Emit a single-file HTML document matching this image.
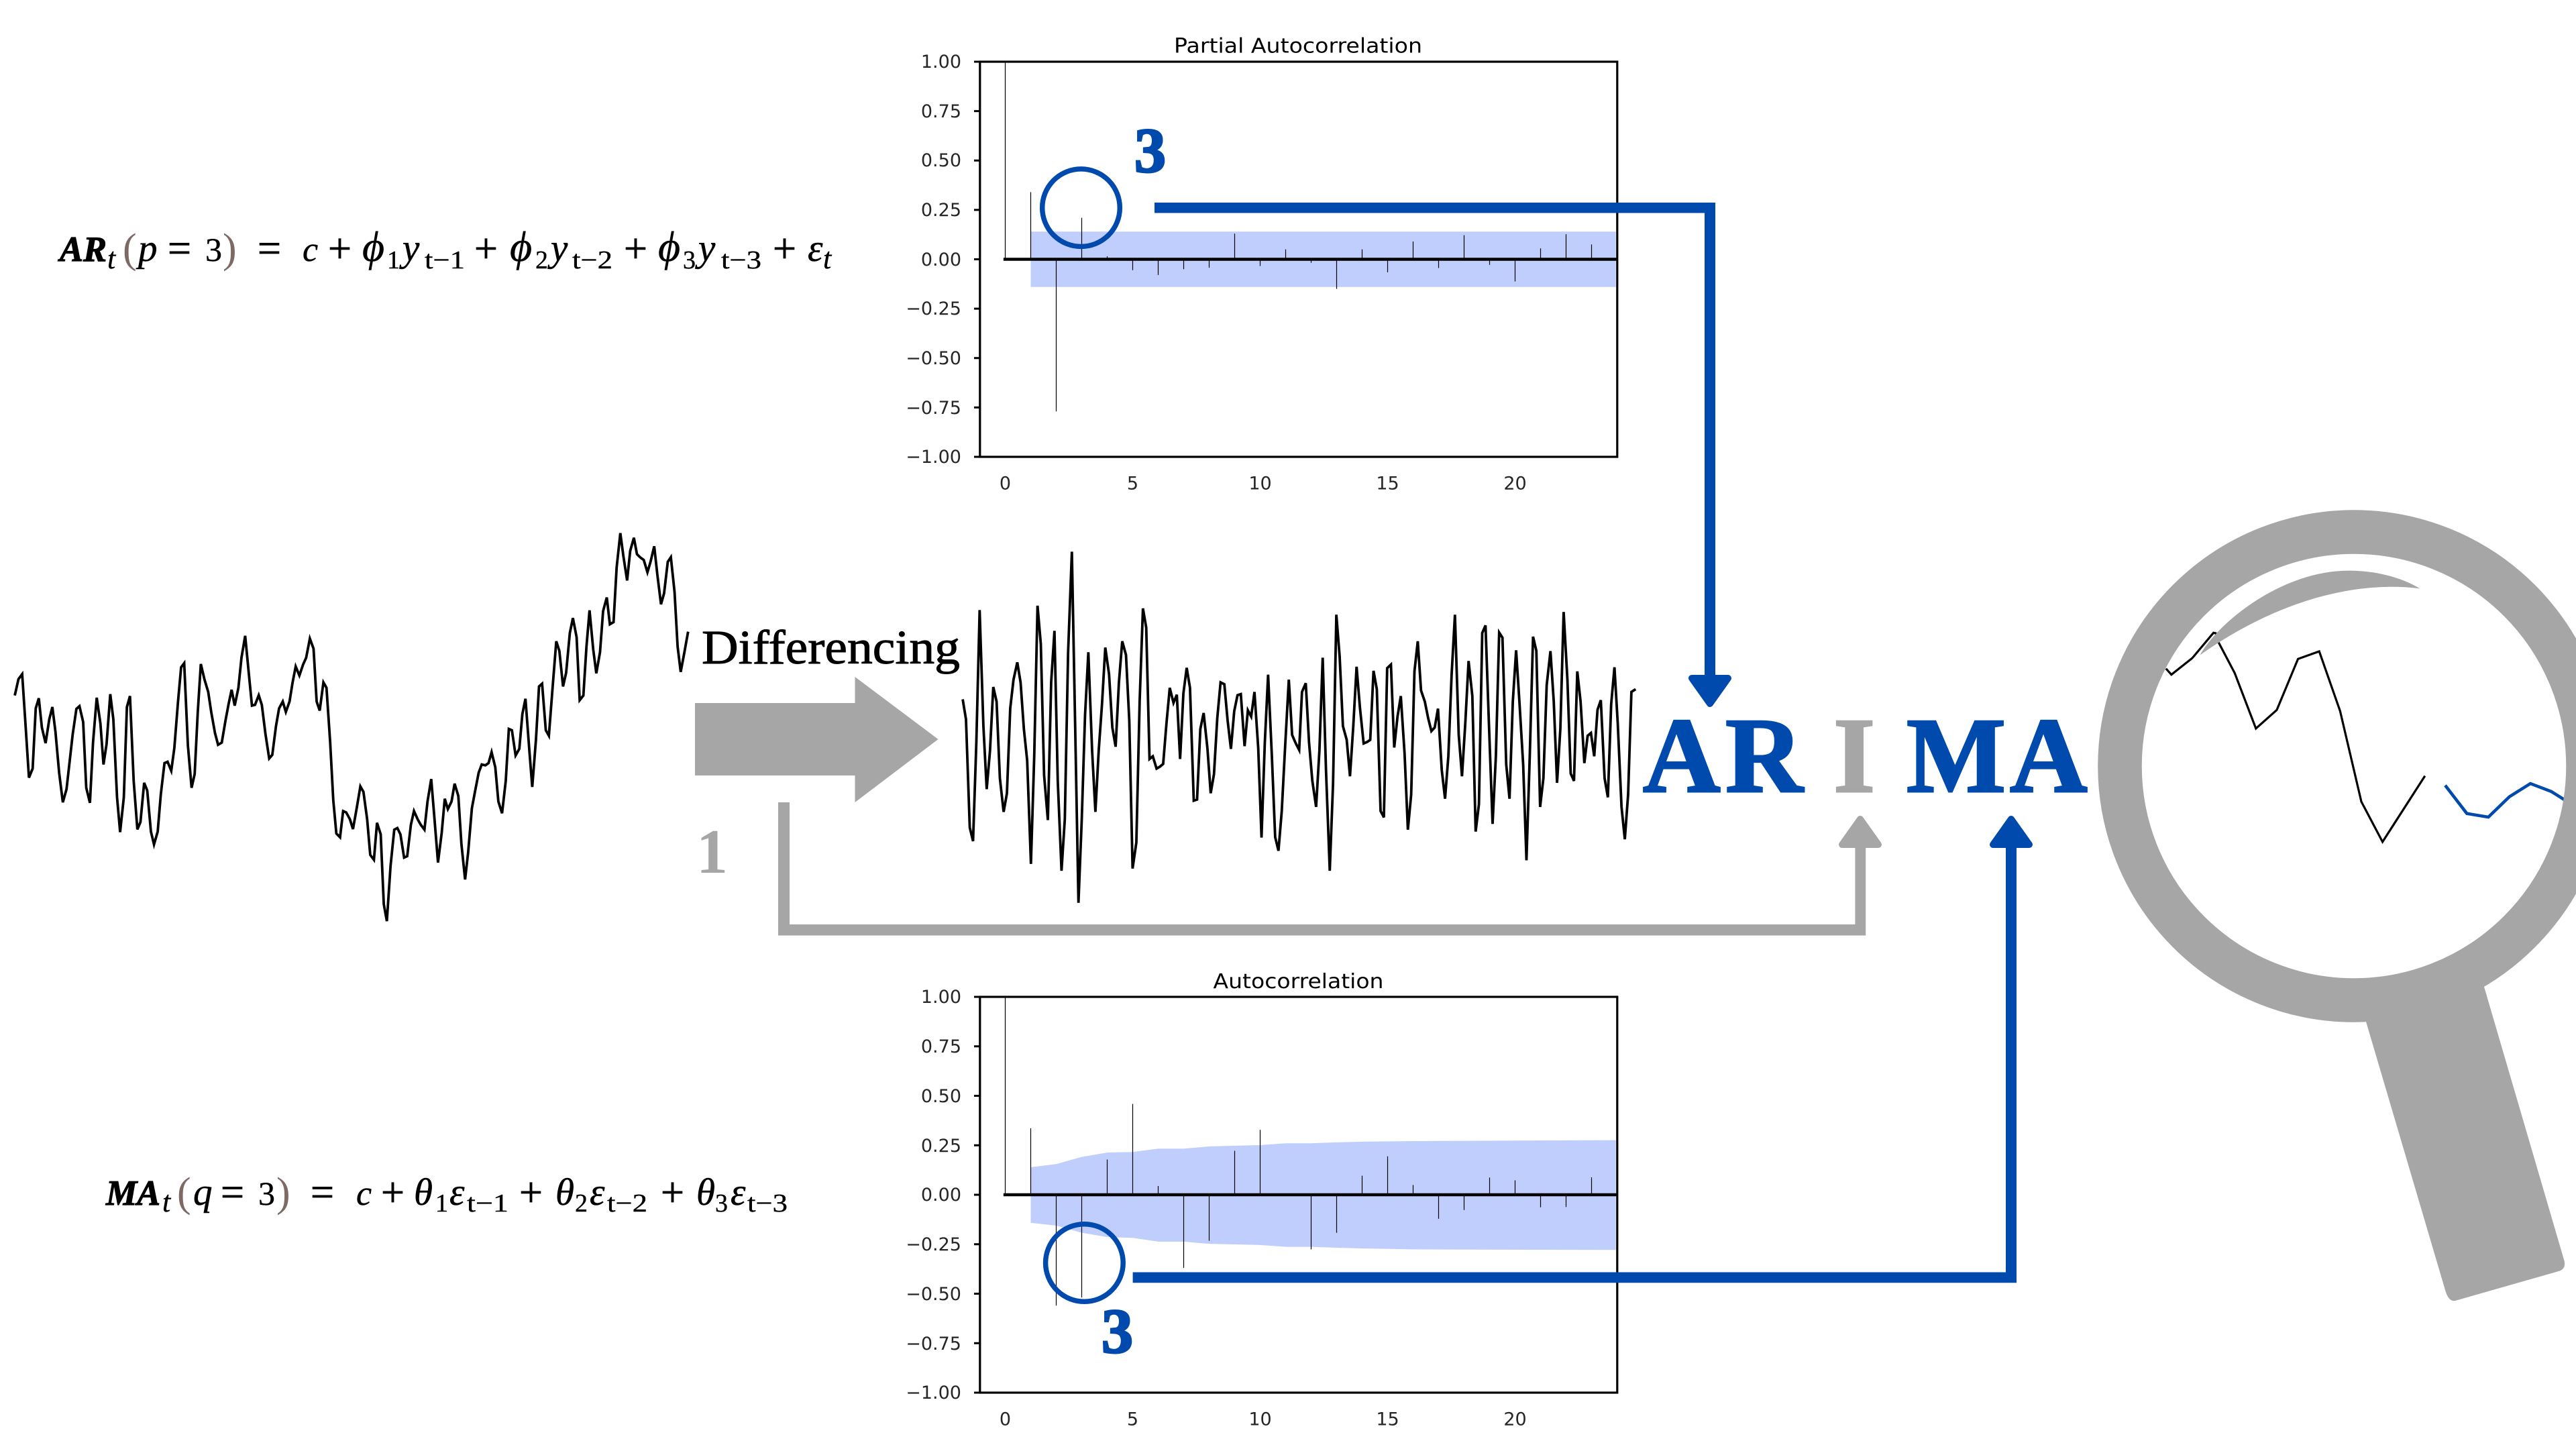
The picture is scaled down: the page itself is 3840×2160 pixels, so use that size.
<!DOCTYPE html>
<html lang="en"><head><meta charset="utf-8"><title>ARIMA</title>
<style>
html,body{margin:0;padding:0;background:#fff;width:3840px;height:2160px;overflow:hidden}
svg{display:block}
.tk{font:27px "DejaVu Sans",sans-serif;fill:#262626}
.ttl{font:30px "DejaVu Sans",sans-serif;fill:#000}
.f{font:italic 57px "Liberation Serif",serif;fill:#000;stroke:#000;stroke-width:.5}
.g{font:italic 64px "Liberation Serif",serif;fill:#000;stroke:#000;stroke-width:.5}
.c{font:italic 52px "Liberation Serif",serif;fill:#000;stroke:#000;stroke-width:.5}
.n{font:50px "Liberation Serif",serif;fill:#000;stroke:#000;stroke-width:.4}
.o{font:62px "Liberation Serif",serif;fill:#000;stroke:#000;stroke-width:.8}
.b{font:italic bold 53px "Liberation Serif",serif;fill:#000;stroke:#000;stroke-width:1.2}
.s{font:38px "Liberation Serif",serif;fill:#000;stroke:#000;stroke-width:.4}
.si{font:italic 44px "Liberation Serif",serif;fill:#000;stroke:#000;stroke-width:.4}
.p{font:62px "Liberation Serif",serif;fill:#7d6a66}
.big{font:bold 160px "Liberation Serif",serif;fill:#004aad;stroke:#004aad;stroke-width:3}
.three{font:bold 94px "Liberation Serif",serif;fill:#004aad;stroke:#004aad;stroke-width:3}
.ns{vector-effect:non-scaling-stroke;fill:none}
</style></head><body>
<svg xmlns="http://www.w3.org/2000/svg" width="3840" height="2160" viewBox="0 0 3840 2160">
<rect width="3840" height="2160" fill="#fff"/>

<!-- AR formula -->
<text class="b" x="89" y="389" textLength="70" lengthAdjust="spacingAndGlyphs">AR</text>
<text class="si" x="160" y="400">t</text>
<text class="p" x="183" y="391">(</text>
<text class="f" x="206" y="389">p</text>
<text class="o" x="250" y="391">=</text>
<text class="n" x="306" y="389">3</text>
<text class="p" x="332" y="391">)</text>
<text class="o" x="384" y="391">=</text>
<text class="c" x="451" y="389">c</text>
<text class="o" x="489" y="391">+</text>
<text class="g" x="540" y="389">ϕ</text>
<text class="s" x="577" y="400">1</text>
<text class="f" x="600" y="389">y</text>
<text class="s" x="633" y="400" textLength="60" lengthAdjust="spacingAndGlyphs">t−1</text>
<text class="o" x="707" y="391">+</text>
<text class="g" x="760" y="389">ϕ</text>
<text class="s" x="798" y="400">2</text>
<text class="f" x="821" y="389">y</text>
<text class="s" x="853" y="400" textLength="60" lengthAdjust="spacingAndGlyphs">t−2</text>
<text class="o" x="930" y="391">+</text>
<text class="g" x="981" y="389">ϕ</text>
<text class="s" x="1018" y="400">3</text>
<text class="f" x="1041" y="389">y</text>
<text class="s" x="1075" y="400" textLength="60" lengthAdjust="spacingAndGlyphs">t−3</text>
<text class="o" x="1152" y="391">+</text>
<text class="f" x="1204" y="389">ε</text>
<text class="si" x="1227" y="400">t</text>

<!-- MA formula -->
<text class="b" x="158" y="1796" textLength="81" lengthAdjust="spacingAndGlyphs">MA</text>
<text class="si" x="242" y="1806">t</text>
<text class="p" x="264" y="1798">(</text>
<text class="f" x="288" y="1796">q</text>
<text class="o" x="329" y="1798">=</text>
<text class="n" x="385" y="1796">3</text>
<text class="p" x="412" y="1798">)</text>
<text class="o" x="463" y="1798">=</text>
<text class="c" x="531" y="1796">c</text>
<text class="o" x="568" y="1798">+</text>
<text class="f" x="617" y="1796">θ</text>
<text class="s" x="649" y="1806">1</text>
<text class="f" x="670" y="1796">ε</text>
<text class="s" x="696" y="1806" textLength="62" lengthAdjust="spacingAndGlyphs">t−1</text>
<text class="o" x="774" y="1798">+</text>
<text class="f" x="828" y="1796">θ</text>
<text class="s" x="857" y="1806">2</text>
<text class="f" x="879" y="1796">ε</text>
<text class="s" x="905" y="1806" textLength="60" lengthAdjust="spacingAndGlyphs">t−2</text>
<text class="o" x="985" y="1798">+</text>
<text class="f" x="1038" y="1796">θ</text>
<text class="s" x="1066" y="1806">3</text>
<text class="f" x="1089" y="1796">ε</text>
<text class="s" x="1114" y="1806" textLength="60" lengthAdjust="spacingAndGlyphs">t−3</text>

<!-- original series -->
<g transform="translate(0,760) scale(.9183,.4082)">
<polyline class="ns" stroke="#000" stroke-width="3.8" stroke-linejoin="miter" points="24,678 30,618 36,600 41,770 47,978 53,945 58,725 63,688 68,795 74,852 80,765 85,720 90,810 96,960 102,1068 108,1020 113,920 118,820 124,727 129,717 135,775 140,1015 146,1070 151,850 157,686 163,780 168,930 173,855 179,673 184,765 190,1050 195,1177 201,1050 206,720 211,680 217,990 223,1167 228,1140 234,997 239,1025 245,1175 250,1222 256,1175 261,1040 267,925 272,920 278,953 283,870 289,700 294,575 299,560 305,860 311,1015 316,965 321,740 326,563 332,620 338,665 343,740 349,815 354,858 360,850 366,770 371,710 376,657 381,715 387,650 392,540 398,460 404,600 409,715 414,712 420,677 425,712 431,820 437,908 442,895 448,790 453,725 459,700 464,738 470,700 475,630 480,572 486,605 492,565 497,540 503,470 509,507 514,700 519,733 525,630 530,650 536,850 541,1060 546,1182 552,1196 557,1100 562,1105 568,1130 573,1166 579,1090 585,1010 590,1030 596,1130 601,1260 607,1278 612,1143 618,1185 623,1440 628,1502 634,1300 640,1168 645,1162 650,1185 656,1270 661,1265 667,1150 672,1100 678,1130 683,1150 689,1168 694,1065 700,983 705,1120 711,1288 717,1180 722,1055 727,1093 733,1065 738,1000 744,1045 749,1220 755,1350 760,1250 766,1090 771,1030 777,960 782,930 788,933 793,925 798,885 804,940 809,1065 815,1108 821,990 826,800 831,805 837,897 843,873 848,745 853,690 859,870 864,1012 870,840 875,645 880,635 886,805 891,825 897,650 903,480 908,515 914,645 919,595 925,450 930,395 936,465 941,695 947,678 952,500 957,367 963,510 968,597 974,520 979,370 985,320 990,418 996,410 1001,210 1007,85 1012,170 1018,258 1023,150 1029,102 1034,162 1040,175 1045,183 1051,228 1056,190 1062,133 1067,235 1073,345 1078,305 1084,190 1089,173 1095,300 1100,500 1105,592 1111,520 1117,445"/>
</g>

<!-- differenced series -->
<g transform="translate(1400,760) scale(.7015,.4082)">
<polyline class="ns" stroke="#000" stroke-width="3.8" points="50,692 57,765 65,1160 72,1210 79,850 86,366 94,790 101,1020 108,880 115,647 122,700 129,980 137,1103 144,1035 151,725 158,620 166,557 173,630 180,800 187,915 195,1293 202,900 209,350 216,490 223,970 231,1133 238,630 245,442 252,990 260,1318 267,1130 274,520 282,153 289,790 296,1435 303,1130 310,750 317,520 325,880 332,1103 339,880 346,710 353,503 361,600 368,795 375,865 382,630 389,480 397,530 404,770 411,1310 419,1215 426,700 433,360 440,430 447,910 454,900 462,945 469,938 476,928 483,780 490,650 498,705 505,675 512,910 519,670 526,577 533,650 541,1062 548,1058 555,800 562,742 570,870 577,1035 584,965 591,760 598,630 606,637 613,770 620,873 627,735 634,677 641,673 649,863 656,732 663,755 670,665 678,870 685,1197 692,850 699,602 707,900 714,1195 721,1245 728,1100 735,870 743,620 750,822 757,850 765,877 771,665 779,633 786,850 793,990 801,1085 808,880 815,540 822,950 830,1318 837,1000 844,383 851,535 858,790 866,840 873,973 880,790 887,573 894,720 902,853 909,848 916,840 923,588 930,655 938,1100 945,1123 952,578 960,565 967,868 974,755 981,680 989,890 996,1168 1003,1040 1010,590 1017,480 1024,660 1032,700 1039,760 1046,808 1053,795 1060,726 1068,950 1075,1055 1082,900 1089,600 1096,383 1104,820 1111,973 1118,780 1125,552 1133,680 1140,1175 1147,1075 1154,450 1161,422 1168,770 1176,1147 1183,900 1190,448 1197,467 1205,930 1212,1055 1219,700 1226,513 1233,700 1241,930 1248,1280 1255,900 1262,463 1269,515 1277,1085 1284,980 1291,640 1299,516 1306,700 1313,997 1320,800 1327,373 1335,620 1342,963 1349,990 1356,590 1363,700 1371,925 1378,825 1385,815 1392,900 1399,730 1406,695 1414,980 1421,1050 1428,710 1435,575 1442,780 1450,1085 1457,1203 1464,1040 1471,665 1480,655"/>
</g>

<!-- Differencing -->
<text x="1046" y="989" textLength="385" lengthAdjust="spacingAndGlyphs" stroke="#000" stroke-width="1" style="font:72px 'Liberation Serif',serif" fill="#000">Differencing</text>
<polygon fill="#a6a6a6" points="1036,1048 1274.5,1048 1274.5,1009 1398.5,1102 1274.5,1196 1274.5,1156 1036,1156"/>
<text x="1038" y="1301" textLength="47" lengthAdjust="spacingAndGlyphs" style="font:bold 94px 'Liberation Serif',serif" fill="#a6a6a6">1</text>

<!-- PACF chart -->
<g>
<text class="ttl" x="1750" y="78.5" textLength="370" lengthAdjust="spacingAndGlyphs">Partial Autocorrelation</text>
<g transform="translate(1498.5,386.5) scale(38,-294.5)">
<polygon fill="#bfcefd" points="1,.14 23.95,.14 23.95,-.14 1,-.14"/>
<path class="ns" stroke="#000" stroke-width="1.2" d="M0 0V1M1 0V.34M2 0V-.77M3 0V.21M4 0V.015M5 0V-.055M6 0V-.08M7 0V-.05M8 0V-.043M9 0V.13M10 0V-.034M11 0V.05M12 0V-.018M13 0V-.15M14 0V.05M15 0V-.066M16 0V.09M17 0V-.044M18 0V.122M19 0V-.028M20 0V-.112M21 0V.055M22 0V.127M23 0V.075"/>
<path class="ns" stroke="#000" stroke-width="4.6" d="M-.07 0H24"/>
</g>
<rect x="1460.8" y="92" width="950" height="589" fill="none" stroke="#000" stroke-width="3.2"/>
<path stroke="#000" stroke-width="3" fill="none" d="M1452 92h9M1452 165.6h9M1452 239.3h9M1452 312.9h9M1452 386.5h9M1452 460.1h9M1452 533.8h9M1452 607.4h9M1452 681h9"/>
<g class="tk" text-anchor="end">
<text x="1433" y="101">1.00</text><text x="1433" y="175">0.75</text><text x="1433" y="248">0.50</text><text x="1433" y="322">0.25</text><text x="1433" y="396">0.00</text><text x="1433" y="469">−0.25</text><text x="1433" y="543">−0.50</text><text x="1433" y="617">−0.75</text><text x="1433" y="690">−1.00</text>
</g>
<g class="tk" text-anchor="middle">
<text x="1498.5" y="729.6">0</text><text x="1688.5" y="729.6">5</text><text x="1878.5" y="729.6">10</text><text x="2068.5" y="729.6">15</text><text x="2258.5" y="729.6">20</text>
</g>
</g>

<!-- ACF chart -->
<g>
<text class="ttl" x="1808.5" y="1473" textLength="254" lengthAdjust="spacingAndGlyphs">Autocorrelation</text>
<g transform="translate(1498.5,1781) scale(38,-295)">
<polygon fill="#bfcefd" points="1,.139 2,.155 3,.191 4,.213 5,.216 6,.233 7,.233 8,.244 9,.248 10,.251 11,.26 12,.26 13,.265 14,.268 16,.271 23.95,.276 23.95,-.279 16,-.276 14,-.271 13,-.268 12,-.263 11,-.263 10,-.254 9,-.251 8,-.248 7,-.237 6,-.237 5,-.218 4,-.214 3,-.192 2,-.156 1,-.142"/>
<path class="ns" stroke="#000" stroke-width="1.2" d="M0 0V1M1 0V.336M2 0V-.56M3 0V-.519M4 0V.178M5 0V.459M6 0V.044M7 0V-.37M8 0V-.232M9 0V.222M10 0V.328M12 0V-.276M13 0V-.192M14 0V.096M15 0V.194M16 0V.049M17 0V-.121M18 0V-.077M19 0V.087M20 0V.073M21 0V-.063M22 0V-.062M23 0V.088"/>
<path class="ns" stroke="#000" stroke-width="4.6" d="M-.07 0H24"/>
</g>
<rect x="1460.8" y="1486" width="950" height="590" fill="none" stroke="#000" stroke-width="3.2"/>
<path stroke="#000" stroke-width="3" fill="none" d="M1452 1486h9M1452 1559.8h9M1452 1633.5h9M1452 1707.3h9M1452 1781h9M1452 1854.8h9M1452 1928.5h9M1452 2002.3h9M1452 2076h9"/>
<g class="tk" text-anchor="end">
<text x="1433" y="1495">1.00</text><text x="1433" y="1569">0.75</text><text x="1433" y="1643">0.50</text><text x="1433" y="1717">0.25</text><text x="1433" y="1790">0.00</text><text x="1433" y="1864">−0.25</text><text x="1433" y="1938">−0.50</text><text x="1433" y="2012">−0.75</text><text x="1433" y="2085">−1.00</text>
</g>
<g class="tk" text-anchor="middle">
<text x="1498.5" y="2124.6">0</text><text x="1688.5" y="2124.6">5</text><text x="1878.5" y="2124.6">10</text><text x="2068.5" y="2124.6">15</text><text x="2258.5" y="2124.6">20</text>
</g>
</g>

<!-- circles and connectors -->
<circle cx="1611.5" cy="309.7" r="57.8" fill="none" stroke="#004aad" stroke-width="7.5"/>
<circle cx="1616.4" cy="1882.5" r="57.8" fill="none" stroke="#004aad" stroke-width="7.5"/>
<text class="three" x="1691" y="256" textLength="47" lengthAdjust="spacingAndGlyphs">3</text>
<text class="three" x="1642" y="2016" textLength="47" lengthAdjust="spacingAndGlyphs">3</text>

<path fill="#004aad" d="M1721 302H2557V1010H2541V317.5H1721Z"/>
<polygon fill="#004aad" stroke="#004aad" stroke-width="10" stroke-linejoin="round" points="2522,1011 2576,1011 2549,1049"/>

<path fill="#a6a6a6" d="M1160 1196H1177V1378H2765.4V1260H2781.2V1394.5H1160Z"/>
<polygon fill="#a6a6a6" stroke="#a6a6a6" stroke-width="10" stroke-linejoin="round" points="2746,1259 2800,1259 2773,1221"/>

<path fill="#004aad" d="M1688.6 1896.5H2990V1260H3006V1912.3H1688.6Z"/>
<polygon fill="#004aad" stroke="#004aad" stroke-width="10" stroke-linejoin="round" points="2971,1259 3025,1259 2998,1221"/>

<!-- ARIMA -->
<text class="big" x="2449" y="1180">A</text>
<text class="big" x="2572" y="1180">R</text>
<text class="big" x="2733" y="1180" style="fill:#a6a6a6;stroke:#a6a6a6">I</text>
<text class="big" x="2842" y="1180" textLength="148" lengthAdjust="spacingAndGlyphs">M</text>
<text class="big" x="2996" y="1180">A</text>

<!-- magnifier -->
<g transform="translate(3100,740) scale(.4719,.3333)">
<polyline class="ns" stroke="#000" stroke-width="3.2" points="273,770 290,797 356,723 423,610 430,612 438,650 490,790 557,1038 623,955 690,727 757,693 823,960 890,1365 957,1545 1091,1250"/>
<path fill="#a6a6a6" d="M380 710C440 560 640 332 850 332C940 332 1020 365 1075 412C900 380 650 440 380 710Z"/>
</g>
<polyline fill="none" stroke="#004aad" stroke-width="4.6" points="3645,1170.7 3677.3,1212.7 3709.3,1218 3740.7,1187.7 3772,1168 3803.3,1180 3824,1193"/>
<circle cx="3509" cy="1142" r="349" fill="none" stroke="#a6a6a6" stroke-width="65.5"/>
<path fill="#a6a6a6" d="M3520 1500L3527 1523L3645 1923Q3650 1941 3660 1939L3814 1895Q3825 1892 3822.7 1880L3703 1471L3695 1450Z"/>
</svg>
</body></html>
